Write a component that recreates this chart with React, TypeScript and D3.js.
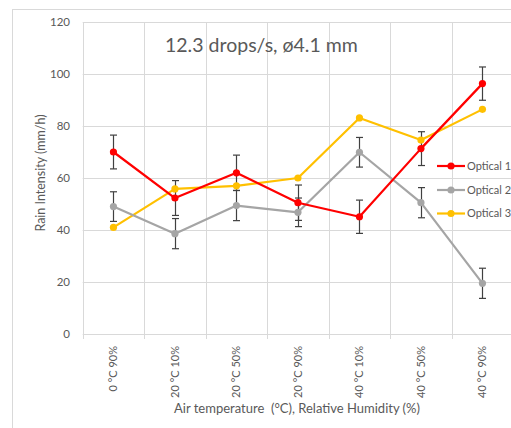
import React, { useRef, useEffect } from "react";
import * as d3 from "d3";

const categories = ["0 °C 90%", "20 °C 10%", "20 °C 50%", "20 °C 90%", "40 °C 10%", "40 °C 50%", "40 °C 90%"];
const optical1 = [70, 52.3, 62, 50.5, 45.1, 71.3, 96.3];
const optical1Err = [6.5, 6.7, 6.8, 6.8, 6.4, 6.5, 6.4];
const optical2 = [49, 38.6, 49.4, 46.8, 69.9, 50.5, 19.5];
const optical2Err = [5.7, 5.8, 5.8, 5.5, 5.7, 5.8, 5.8];
const optical3 = [41, 55.8, 57, 60, 83.1, 74.6, 86.4];
const yTicks = [0, 20, 40, 60, 80, 100, 120];

const series = [
  { name: "Optical 1", values: optical1, err: optical1Err, color: "#FF0000" },
  { name: "Optical 2", values: optical2, err: optical2Err, color: "#A5A5A5" },
  { name: "Optical 3", values: optical3, err: null, color: "#FFC000" },
];

const App = () => {
  const ref = useRef<HTMLDivElement>(null);

  useEffect(() => {
    const width = 511;
    const height = 428;
    const font = "Lato, 'Liberation Sans', sans-serif";
    const textColor = "#595959";
    const gridColor = "#D9D9D9";

    const x = d3.scaleBand().domain(categories).range([82.7, 513.2]);
    const y = d3.scaleLinear().domain([0, 120]).range([334, 22]);

    const svg = d3.create("svg")
      .attr("width", width)
      .attr("height", height)
      .attr("viewBox", [0, 0, width, height])
      .style("position", "absolute")
      .style("left", "0px")
      .style("top", "0px")
      .style("font-family", font);

    svg.append("rect").attr("width", width).attr("height", height).attr("fill", "#fff");
    svg.append("rect")
      .attr("x", 12.5).attr("y", 9.5)
      .attr("width", 520).attr("height", 440)
      .attr("fill", "none").attr("stroke", gridColor);

    // horizontal gridlines
    svg.append("g")
      .selectAll("line")
      .data(yTicks)
      .join("line")
      .attr("x1", x.range()[0]).attr("x2", x.range()[1])
      .attr("y1", d => Math.round(y(d)) + 0.5).attr("y2", d => Math.round(y(d)) + 0.5)
      .attr("stroke", gridColor);

    // vertical gridlines at category boundaries
    const bounds = categories.map(c => x(c)!).concat([x.range()[1]]);
    svg.append("g")
      .selectAll("line")
      .data(bounds)
      .join("line")
      .attr("x1", d => Math.round(d) + 0.5).attr("x2", d => Math.round(d) + 0.5)
      .attr("y1", y(120)).attr("y2", y(0) + 5)
      .attr("stroke", gridColor);

    // y tick labels
    svg.append("g")
      .selectAll("text")
      .data(yTicks)
      .join("text")
      .attr("x", 70)
      .attr("y", d => y(d))
      .attr("dy", "0.35em")
      .attr("text-anchor", "end")
      .attr("fill", textColor)
      .style("font-size", "11.5px")
      .text(d => d);

    // x tick labels
    svg.append("g")
      .selectAll("text")
      .data(categories)
      .join("text")
      .attr("transform", d => `translate(${x(d)! + x.bandwidth() / 2},346) rotate(-90)`)
      .attr("dy", "0.35em")
      .attr("text-anchor", "end")
      .attr("fill", textColor)
      .style("font-size", "11px")
      .text(d => d);

    // axis titles
    svg.append("text")
      .attr("transform", `translate(40.5,173) rotate(-90)`)
      .attr("dy", "0.35em")
      .attr("text-anchor", "middle")
      .attr("fill", textColor)
      .style("font-size", "12.5px")
      .text("Rain Intensity (mm/h)");

    svg.append("text")
      .attr("x", 297)
      .attr("y", 413)
      .attr("text-anchor", "middle")
      .attr("fill", textColor)
      .style("font-size", "13px")
      .style("white-space", "pre")
      .text("Air temperature  (°C), Relative Humidity (%)");

    // chart title
    svg.append("text")
      .attr("x", 165)
      .attr("y", 52)
      .attr("fill", textColor)
      .style("font-size", "19.5px")
      .text("12.3 drops/s, ø4.1 mm");

    const cx = (i: number) => x(categories[i])! + x.bandwidth() / 2;

    // error bars
    series.filter(s => s.err).forEach(s => {
      const g = svg.append("g").attr("stroke", "#404040").attr("stroke-width", 1.2);
      s.values.forEach((v, i) => {
        const e = s.err![i];
        const px = Math.round(cx(i)) + 0.5;
        g.append("line").attr("x1", px).attr("x2", px).attr("y1", y(v + e)).attr("y2", y(v - e));
        g.append("line").attr("x1", px - 3.5).attr("x2", px + 3.5).attr("y1", y(v + e)).attr("y2", y(v + e));
        g.append("line").attr("x1", px - 3.5).attr("x2", px + 3.5).attr("y1", y(v - e)).attr("y2", y(v - e));
      });
    });

    const line = d3.line<number>()
      .x((d, i) => cx(i))
      .y(d => y(d));

    // draw yellow first, then gray, then red on top
    [series[2], series[1], series[0]].forEach(s => {
      svg.append("path")
        .datum(s.values)
        .attr("d", line)
        .attr("fill", "none")
        .attr("stroke", s.color)
        .attr("stroke-width", 2.2)
        .attr("stroke-linejoin", "round");
      svg.append("g")
        .selectAll("circle")
        .data(s.values)
        .join("circle")
        .attr("cx", (d, i) => cx(i))
        .attr("cy", d => y(d))
        .attr("r", 3.6)
        .attr("fill", s.color);
    });

    // legend
    const legendY = [166, 190, 213.5];
    series.forEach((s, i) => {
      const row = svg.append("g").attr("transform", `translate(0,${legendY[i]})`);
      row.append("line")
        .attr("x1", 437).attr("x2", 465)
        .attr("stroke", s.color).attr("stroke-width", 2.2);
      row.append("circle").attr("cx", 451).attr("r", 3.6).attr("fill", s.color);
      row.append("text")
        .attr("x", 467)
        .attr("dy", "0.35em")
        .attr("fill", textColor)
        .style("font-size", "11px")
        .text(s.name);
    });

    ref.current!.innerHTML = "";
    ref.current!.appendChild(svg.node()!);
  }, []);

  return <div ref={ref} />;
};

export default App;
